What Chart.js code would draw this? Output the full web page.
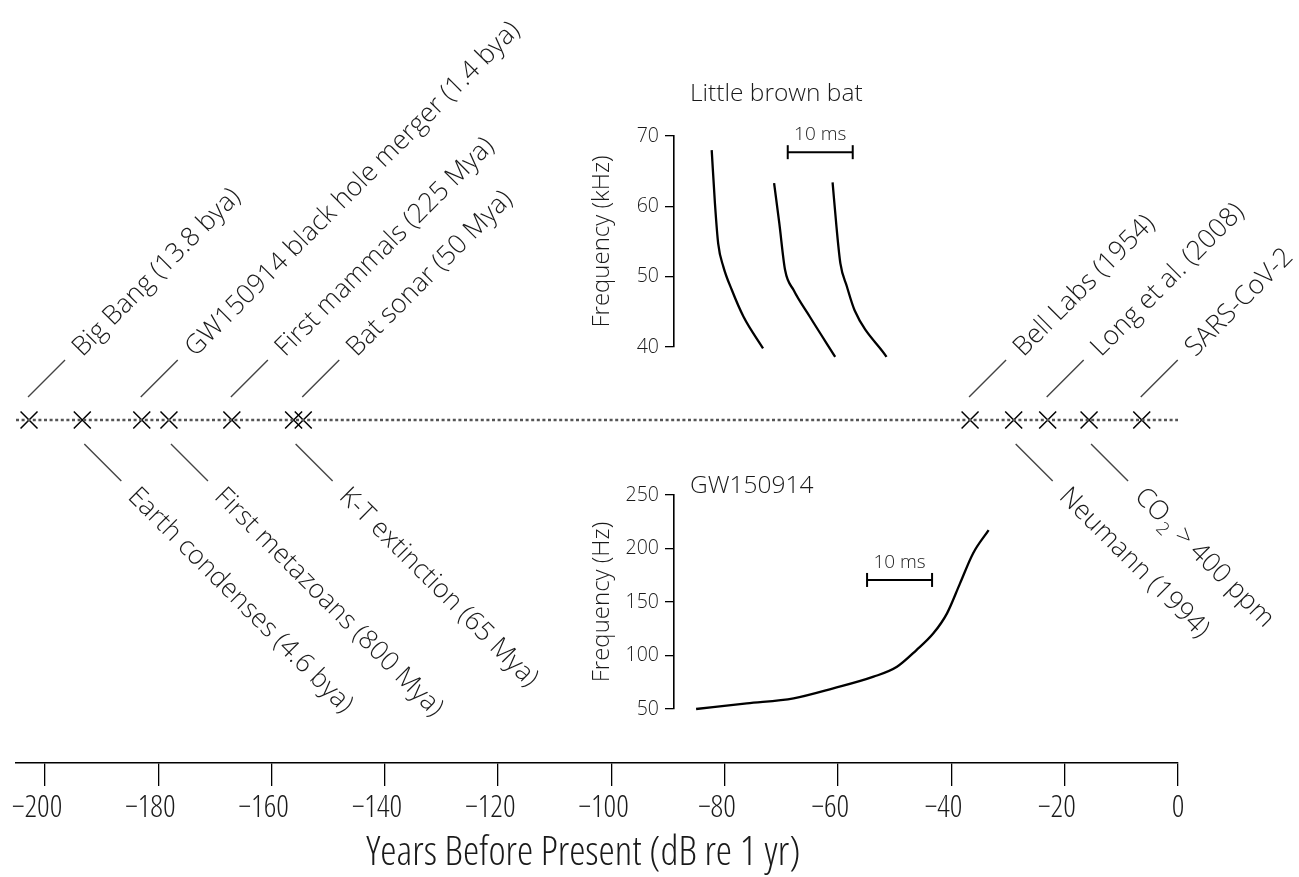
<!DOCTYPE html>
<html><head><meta charset="utf-8">
<script src="https://cdn.jsdelivr.net/npm/chart.js@4.4.1/dist/chart.umd.min.js"></script>
<style>
html,body{margin:0;padding:0;background:#fff;}
#wrap{position:relative;width:1299px;height:877px;overflow:hidden;background:#fff;}
canvas{position:absolute;}
</style></head><body>
<div id="wrap">
<canvas id="main" width="1299" height="877" style="left:0;top:0"></canvas>
<canvas id="bat" width="340" height="300" style="left:580px;top:70px"></canvas>
<canvas id="gw" width="420" height="260" style="left:580px;top:470px"></canvas>
</div>
<script>
// ---------- data ----------
const eventLabels = ['Big Bang (13.8 bya)', 'Earth condenses (4.6 bya)', 'GW150914 black hole merger (1.4 bya)',
  'First metazoans (800 Mya)', 'First mammals (225 Mya)', 'K-T extinction (65 Mya)', 'Bat sonar (50 Mya)',
  'Bell Labs (1954)', 'Neumann (1994)', 'Long et al. (2008)', 'CO\u2082 > 400 ppm', 'SARS-CoV-2'];
const eventValues = [-202.8, -193.4, -182.9, -178.1, -167.0, -156.1, -154.4, -36.7, -29.0, -23.0, -15.7, -6.4];
const eventSides = ['up', 'down', 'up', 'down', 'up', 'down', 'up', 'up', 'down', 'up', 'down', 'up'];
const xAxisTitle = 'Years Before Present (dB re 1 yr)';

const batTitle = 'Little brown bat';
const batYTitle = 'Frequency (kHz)';
const batCall1T = [5.8, 6.3, 6.8, 7.6, 8.9, 10.7, 13.7];
const batCall1F = [68.0, 60.4, 54.7, 51.4, 48.1, 44.3, 39.8];
const batCall2T = [15.4, 16.2, 17.1, 18.4, 20.9, 24.8];
const batCall2F = [63.3, 57.6, 50.9, 48.1, 44.3, 38.6];
const batCall3T = [24.4, 25.0, 25.6, 26.6, 27.8, 32.7];
const batCall3F = [63.4, 57.1, 51.9, 48.6, 45.2, 38.6];
const batBarT = [17.5, 27.5];
const batBarF = 67.7;

const gwTitle = 'GW150914';
const gwYTitle = 'Frequency (Hz)';
const gwT = [3.4, 11.2, 18.4, 24.5, 30.7, 34.3, 37.3, 39.9, 42.0, 44.0, 46.0, 48.4];
const gwF = [50.0, 55.3, 60.0, 69.3, 80.2, 89.5, 105.1, 120.7, 139.4, 167.4, 195.4, 217.2];
const gwBarT = [29.7, 39.7];
const gwBarF = 170.6;
const scaleBarText = '10 ms';

// ---------- style ----------
const FAM = "'Open Sans', Lato, sans-serif";
const TXT = '#1a1a1a';
const LABEL_SIZE = 26.5;

function drawRich(ctx, text, x, y, size) {
  const parts = text.split('\u2082');
  let cx = x;
  ctx.textAlign = 'left';
  ctx.textBaseline = 'alphabetic';
  parts.forEach((p, i) => {
    ctx.font = '300 ' + size + 'px ' + FAM;
    ctx.fillText(p, cx, y);
    cx += ctx.measureText(p).width;
    if (i < parts.length - 1) {
      ctx.font = '300 ' + Math.round(size * 0.68) + 'px ' + FAM;
      ctx.fillText('2', cx + 1, y + 7);
      cx += ctx.measureText('2').width + 2;
    }
  });
}

const eventLabelPlugin = {
  id: 'eventLabels',
  afterDatasetsDraw(chart) {
    const {ctx, scales: {x, y}} = chart;
    const yb = y.getPixelForValue(0);
    ctx.save();
    ctx.fillStyle = TXT;
    eventValues.forEach((v, i) => {
      const px = x.getPixelForValue(v);
      const up = eventSides[i] === 'up';
      const d = up ? -1 : 1;
      const x0 = px + (up ? -1 : 2);
      const y0 = yb + d * (up ? 23 : 24);
      const L = 37;
      const x1 = x0 + L, y1 = y0 + d * L;
      ctx.strokeStyle = '#444';
      ctx.lineWidth = 1.4;
      ctx.beginPath(); ctx.moveTo(x0, y0); ctx.lineTo(x1, y1); ctx.stroke();
      const g = up ? 10 : 11;
      ctx.save();
      ctx.translate(x1 + g, y1 + d * g);
      ctx.rotate(d * Math.PI / 4);
      drawRich(ctx, eventLabels[i], 0, up ? 10.5 : 8, LABEL_SIZE);
      ctx.restore();
    });
    ctx.restore();
  }
};

new Chart(document.getElementById('main'), {
  type: 'scatter',
  data: {
    datasets: [
      {data: [{x: -205.1, y: 0}, {x: 0, y: 0}], showLine: true, borderColor: '#555', borderWidth: 2.5,
        borderDash: [3, 2.6], pointRadius: 0, clip: false},
      {data: eventValues.map(v => ({x: v, y: 0})), pointStyle: 'crossRot', pointRadius: 12,
        borderColor: '#000', pointBorderWidth: 1.5, borderWidth: 1.5, backgroundColor: '#000', clip: false}
    ]
  },
  options: {
    animation: false, responsive: false, events: [],
    layout: {autoPadding: false, padding: {left: 16, right: 121, top: 77, bottom: 0}},
    plugins: {legend: {display: false}, tooltip: {enabled: false}},
    scales: {
      x: {
        type: 'linear', min: -205.1, max: 0,
        ticks: {stepSize: 20, includeBounds: false, autoSkip: false, maxRotation: 0,
          color: TXT, padding: 4, font: {family: FAM, size: 31, weight: '300 condensed'},
          callback: v => (v < 0 ? '\u2212' + Math.abs(v) + '\u2002' : String(v))},
        grid: {drawOnChartArea: false, drawTicks: true, tickLength: 23, color: '#000', lineWidth: 1.3},
        border: {display: true, color: '#000', width: 1.5},
        title: {display: true, text: xAxisTitle + '\u2002\u2009', color: TXT, padding: {top: 0, bottom: 3},
          font: {family: FAM, size: 41, weight: '300 condensed', lineHeight: 1.0}},
        afterFit(s) { s.height = 114; }
      },
      y: {type: 'linear', display: false, min: -1, max: 1}
    }
  },
  plugins: [eventLabelPlugin]
});

function toPts(ts, fs) { return ts.map((t, i) => ({x: t, y: fs[i]})); }

function insetPlugin(title, tx, ty, barT, barF) {
  return {
    id: 'insetText',
    afterDatasetsDraw(chart) {
      const {ctx, scales: {x, y}} = chart;
      ctx.save();
      ctx.fillStyle = TXT;
      ctx.font = '300 24.5px ' + FAM;
      ctx.textAlign = 'left'; ctx.textBaseline = 'alphabetic';
      ctx.fillText(title, tx, ty);
      ctx.font = '300 19px ' + FAM;
      ctx.textAlign = 'center';
      ctx.fillText(scaleBarText, x.getPixelForValue((barT[0] + barT[1]) / 2), y.getPixelForValue(barF) - 12);
      ctx.restore();
    }
  };
}

function insetChart(id, curves, barT, barF, yMin, yMax, yStep, yTitle, xMax, padTop, padBottom, plugin) {
  const ds = curves.map(c => ({data: c, showLine: true, borderColor: '#000', borderWidth: 2.3, pointRadius: 0,
    cubicInterpolationMode: 'monotone', clip: false}));
  ds.push({data: [{x: barT[0], y: barF}, {x: barT[1], y: barF}], showLine: true, borderColor: '#000', borderWidth: 2,
    pointStyle: 'line', rotation: 90, pointRadius: 7, pointBorderWidth: 2, pointBorderColor: '#000', clip: false});
  return new Chart(document.getElementById(id), {
    type: 'scatter',
    data: {datasets: ds},
    options: {
      animation: false, responsive: false, events: [],
      layout: {autoPadding: false, padding: {top: padTop, bottom: padBottom, left: 0, right: 0}},
      plugins: {legend: {display: false}, tooltip: {enabled: false}},
      scales: {
        x: {type: 'linear', display: false, min: 0, max: xMax},
        y: {
          type: 'linear', min: yMin, max: yMax,
          ticks: {stepSize: yStep, color: TXT, padding: 6, font: {family: FAM, size: 19.5, weight: '300'}},
          grid: {drawOnChartArea: false, drawTicks: true, tickLength: 9, color: '#000', lineWidth: 1.3},
          border: {display: true, color: '#000', width: 1.6},
          title: {display: true, text: yTitle, color: TXT, padding: {top: 8, bottom: 0},
            font: {family: FAM, size: 24, weight: '300'}},
          afterFit(s) { s.width = 94; }
        }
      }
    },
    plugins: [plugin]
  });
}

insetChart('bat', [toPts(batCall1T, batCall1F), toPts(batCall2T, batCall2F), toPts(batCall3T, batCall3F)],
  batBarT, batBarF, 40, 70, 10, batYTitle, 37.85, 66, 23, insetPlugin(batTitle, 110, 31, batBarT, batBarF));
insetChart('gw', [toPts(gwT, gwF)], gwBarT, gwBarF, 50, 250, 50, gwYTitle, 50.15, 25, 21,
  insetPlugin(gwTitle, 110, 23, gwBarT, gwBarF));
</script>
</body></html>
